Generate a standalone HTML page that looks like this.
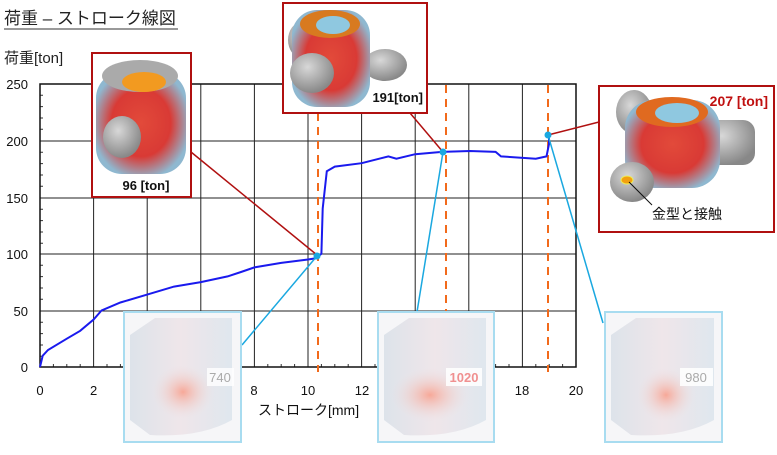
<!DOCTYPE html>
<html><head><meta charset="utf-8"><style>
body{margin:0;background:#fff;}
svg text{font-family:"Liberation Sans","Noto Sans CJK JP",sans-serif;}
</style></head><body>
<svg width="777" height="450" viewBox="0 0 777 450" xmlns="http://www.w3.org/2000/svg">
<defs>
<radialGradient id="body" cx="50%" cy="50%" r="55%"><stop offset="0" stop-color="#e24a3a"/><stop offset="0.6" stop-color="#d93a35"/><stop offset="1" stop-color="#8fb8d0"/></radialGradient>
<radialGradient id="cyl" cx="40%" cy="35%" r="65%"><stop offset="0" stop-color="#d8d8d8"/><stop offset="1" stop-color="#888"/></radialGradient>
<radialGradient id="pale" cx="50%" cy="50%" r="50%"><stop offset="0" stop-color="#f7a898"/><stop offset="1" stop-color="#ece4e8" stop-opacity="0"/></radialGradient>
<linearGradient id="bg" x1="0" y1="0" x2="1" y2="0"><stop offset="0" stop-color="#dde3ea"/><stop offset="0.5" stop-color="#efe6ea"/><stop offset="1" stop-color="#dfe7ee"/></linearGradient>
</defs>
<text x="4" y="24" font-size="17" fill="#222">荷重 – ストローク線図</text>
<line x1="4" y1="29" x2="178" y2="29" stroke="#333" stroke-width="1"/>
<text x="4" y="63" font-size="15" fill="#222">荷重[ton]</text>
<g stroke="#222" stroke-width="1">
<line x1="40" y1="84" x2="576" y2="84"/><line x1="40" y1="141" x2="576" y2="141"/><line x1="40" y1="198" x2="576" y2="198"/><line x1="40" y1="254" x2="576" y2="254"/><line x1="40" y1="311" x2="576" y2="311"/>
<line x1="93.6" y1="84" x2="93.6" y2="367"/><line x1="147.2" y1="84" x2="147.2" y2="367"/><line x1="200.8" y1="84" x2="200.8" y2="367"/><line x1="254.4" y1="84" x2="254.4" y2="367"/><line x1="308" y1="84" x2="308" y2="367"/><line x1="361.6" y1="84" x2="361.6" y2="367"/><line x1="415.2" y1="84" x2="415.2" y2="367"/><line x1="468.8" y1="84" x2="468.8" y2="367"/><line x1="522.4" y1="84" x2="522.4" y2="367"/>
</g>
<g stroke="#333" stroke-width="1">
<path d="M40 95.3h3M40 106.6h3M40 118h3M40 129.3h3M40 152.3h3M40 163.6h3M40 175h3M40 186.3h3M40 209.3h3M40 220.6h3M40 232h3M40 243.3h3M40 265.3h3M40 276.6h3M40 288h3M40 299.3h3M40 322.3h3M40 333.6h3M40 345h3M40 356.3h3"/>
<path d="M53.4 367v-3M66.8 367v-3M80.2 367v-3M107 367v-3M120.4 367v-3M133.8 367v-3M160.6 367v-3M174 367v-3M187.4 367v-3M214.2 367v-3M227.6 367v-3M241 367v-3M267.8 367v-3M281.2 367v-3M294.6 367v-3M321.4 367v-3M334.8 367v-3M348.2 367v-3M375 367v-3M388.4 367v-3M401.8 367v-3M428.6 367v-3M442 367v-3M455.4 367v-3M482.2 367v-3M495.6 367v-3M509 367v-3M535.8 367v-3M549.2 367v-3M562.6 367v-3"/>
</g>
<rect x="40" y="84" width="536" height="283" fill="none" stroke="#111" stroke-width="1.5"/>
<g font-size="13" fill="#111" text-anchor="end">
<text x="28" y="89">250</text><text x="28" y="146">200</text><text x="28" y="203">150</text><text x="28" y="259">100</text><text x="28" y="316">50</text><text x="28" y="372">0</text>
</g>
<g font-size="13" fill="#111" text-anchor="middle">
<text x="40" y="395">0</text><text x="93.6" y="395">2</text><text x="147" y="395">4</text><text x="201" y="395">6</text><text x="254" y="395">8</text><text x="308" y="395">10</text><text x="362" y="395">12</text><text x="415" y="395">14</text><text x="469" y="395">16</text><text x="522" y="395">18</text><text x="576" y="395">20</text>
</g>
<text x="258" y="415" font-size="14" fill="#111">ストローク[mm]</text>
<g stroke="#f26a1b" stroke-width="2" stroke-dasharray="8,6">
<line x1="318" y1="113" x2="318" y2="372"/><line x1="446" y1="85" x2="446" y2="372"/><line x1="548" y1="85" x2="548" y2="372"/>
</g>
<polyline fill="none" stroke="#1a1aee" stroke-width="2" points="40,367 42.7,355.7 48,350 66.8,338.7 80.2,330.8 93.6,319.5 101.6,310.4 120.4,302.5 147.2,294.6 174,286.6 200.8,282.1 227.6,276.4 241,272 254.4,267.4 281.2,262.9 308,259.5 316,258.3 321.4,253.8 322.7,208.5 326.8,171.2 334.8,166.6 361.6,163.2 388.4,156.4 396.4,158.7 415.2,154.2 442,151.9 470,151 495.6,151.9 501,156.4 535.8,158.7 546.5,156.4 549,144 549,134"/>
<g stroke="#b01010" stroke-width="1.5"><line x1="191" y1="152" x2="317" y2="255"/><line x1="410" y1="113" x2="443" y2="152"/><line x1="599" y1="122" x2="548" y2="135"/></g>
<g stroke="#1aa8e0" stroke-width="1.5"><line x1="317" y1="256" x2="242" y2="345"/><line x1="443" y1="152" x2="417" y2="312"/><line x1="548" y1="135" x2="603" y2="323"/></g>
<circle cx="317" cy="256" r="3.5" fill="#1aa8e0"/><circle cx="443" cy="152" r="3.5" fill="#1aa8e0"/><circle cx="548" cy="135" r="3.5" fill="#1aa8e0"/>
<!-- box1 -->
<rect x="92" y="53" width="99" height="144" fill="#fff" stroke="#b01010" stroke-width="2"/>
<rect x="96" y="72" width="90" height="102" rx="26" fill="url(#body)"/>
<ellipse cx="140" cy="76" rx="38" ry="16" fill="#aaa"/><ellipse cx="144" cy="82" rx="22" ry="10" fill="#f29a20"/>
<ellipse cx="122" cy="137" rx="19" ry="21" fill="url(#cyl)"/>
<text x="146" y="190" font-size="13" font-weight="bold" fill="#111" text-anchor="middle">96 [ton]</text>
<!-- box2 -->
<rect x="283" y="3" width="144" height="110" fill="#fff" stroke="#b01010" stroke-width="2"/>
<ellipse cx="302" cy="40" rx="14" ry="18" fill="url(#cyl)"/><ellipse cx="385" cy="65" rx="22" ry="16" fill="url(#cyl)"/>
<rect x="292" y="10" width="78" height="97" rx="25" fill="url(#body)"/>
<ellipse cx="330" cy="24" rx="30" ry="14" fill="#d87a20"/><ellipse cx="333" cy="25" rx="17" ry="9" fill="#8fc8e0"/>
<ellipse cx="312" cy="73" rx="22" ry="20" fill="url(#cyl)"/>
<text x="423" y="102" font-size="13" font-weight="bold" fill="#111" text-anchor="end">191[ton]</text>
<!-- box3 -->
<rect x="599" y="86" width="175" height="146" fill="#fff" stroke="#b01010" stroke-width="2"/>
<ellipse cx="634" cy="112" rx="18" ry="22" fill="url(#cyl)"/><rect x="700" y="120" width="55" height="45" rx="12" fill="url(#cyl)"/>
<rect x="625" y="100" width="95" height="88" rx="28" fill="url(#body)"/>
<ellipse cx="672" cy="112" rx="36" ry="15" fill="#e06a20"/><ellipse cx="677" cy="113" rx="22" ry="10" fill="#8fc8e0"/>
<ellipse cx="632" cy="182" rx="22" ry="20" fill="url(#cyl)"/><ellipse cx="627" cy="180" rx="6" ry="4" fill="#f2a010" stroke="#ee5" stroke-width="1"/>
<line x1="629" y1="182" x2="652" y2="205" stroke="#111"/>
<text x="768" y="106" font-size="14" font-weight="bold" fill="#c01010" text-anchor="end">207 [ton]</text>
<text x="652" y="219" font-size="14" fill="#111">金型と接触</text>
<!-- bottom boxes -->
<g>
<rect x="124" y="312" width="117" height="130" fill="#f6f6f8" stroke="#a8dcf0" stroke-width="2"/>
<path d="M130 335 L155 318 L232 318 L232 420 Q200 438 150 435 L130 420 Z" fill="url(#bg)"/>
<ellipse cx="183" cy="392" rx="32" ry="28" fill="url(#pale)"/>
<rect x="207" y="368" width="27" height="18" fill="#fff" opacity="0.8"/><text x="220" y="382" font-size="13" fill="#aaa" text-anchor="middle">740</text>
</g>
<g>
<rect x="378" y="312" width="116" height="130" fill="#f6f6f8" stroke="#a8dcf0" stroke-width="2"/>
<path d="M384 335 L409 318 L486 318 L486 420 Q454 438 404 435 L384 420 Z" fill="url(#bg)"/>
<ellipse cx="430" cy="395" rx="40" ry="28" fill="url(#pale)"/>
<rect x="446" y="368" width="36" height="18" fill="#fff" opacity="0.85"/><text x="464" y="382" font-size="13" fill="#f09090" font-weight="bold" text-anchor="middle">1020</text>
</g>
<g>
<rect x="605" y="312" width="117" height="130" fill="#f6f6f8" stroke="#a8dcf0" stroke-width="2"/>
<path d="M611 335 L636 318 L714 318 L714 420 Q682 438 631 435 L611 420 Z" fill="url(#bg)"/>
<ellipse cx="666" cy="395" rx="30" ry="28" fill="url(#pale)"/>
<rect x="680" y="368" width="33" height="18" fill="#fff" opacity="0.85"/><text x="696" y="382" font-size="13" fill="#aaa" text-anchor="middle">980</text>
</g>
</svg>
</body></html>
